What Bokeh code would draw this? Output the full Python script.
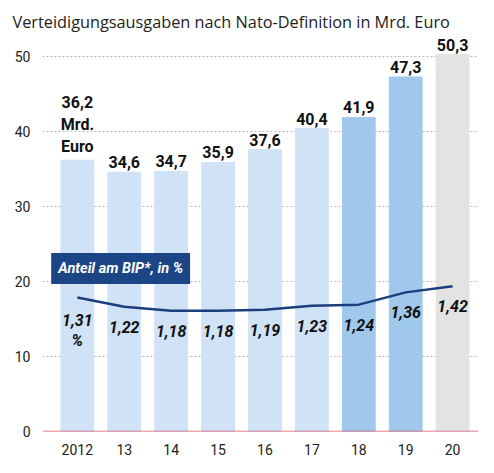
from bokeh.plotting import figure
from bokeh.models import Range1d, FixedTicker, Span, Label, ColumnDataSource
from bokeh.core.properties import value
from bokeh.embed import file_html
from bokeh.resources import INLINE

# ---- data ----
years = ["2012", "13", "14", "15", "16", "17", "18", "19", "20"]
spend = [36.2, 34.6, 34.7, 35.9, 37.6, 40.4, 41.9, 47.3, 50.3]
spend_labels = ["36,2\nMrd.\nEuro", "34,6", "34,7", "35,9", "37,6", "40,4", "41,9", "47,3", "50,3"]
share = [1.31, 1.22, 1.18, 1.18, 1.19, 1.23, 1.24, 1.36, 1.42]
share_labels = ["1,31\n%", "1,22", "1,18", "1,18", "1,19", "1,23", "1,24", "1,36", "1,42"]
status = ["ist", "ist", "ist", "ist", "ist", "ist", "plan", "plan", "prognose"]
y_ticks = [0, 10, 20, 30, 40, 50]

palette = {"ist": "#d0e2f5", "plan": "#a0c8ec", "prognose": "#e3e3e3"}
COND = "Roboto"

idx = list(range(len(years)))
src = ColumnDataSource(dict(x=idx, spend=spend, slab=spend_labels, share=share,
                            plab=share_labels, color=[palette[s] for s in status]))

Y_END = 52.57
p = figure(width=478, height=457, output_backend="svg", toolbar_location=None,
           x_range=Range1d(-0.743, 8.552), y_range=Range1d(0, Y_END),
           min_border_left=42, min_border_right=0, min_border_top=37, min_border_bottom=25)
p.extra_y_ranges = {"pct": Range1d(0, Y_END / 13.65)}
p.outline_line_color = None
p.background_fill_color = "white"

p.title.text = "Verteidigungsausgaben nach Nato-Definition in Mrd. Euro"
p.title.text_font = "Open Sans"
p.title.text_font_size = "16.3px"
p.title.text_font_style = "normal"
p.title.text_color = "#222222"
p.title.offset = -30
p.title.standoff = 9

# axes
p.xaxis.ticker = FixedTicker(ticks=idx)
p.xaxis.major_label_overrides = {i: y for i, y in zip(idx, years)}
p.yaxis.ticker = FixedTicker(ticks=y_ticks)
for ax in (p.xaxis[0], p.yaxis[0]):
    ax.axis_line_color = None
    ax.major_tick_line_color = None
    ax.minor_tick_line_color = None
    ax.major_label_text_font = COND
    ax.major_label_text_font_size = "14px"
    ax.major_label_text_color = "#222222"
p.xaxis.major_label_standoff = 6
p.yaxis.major_label_standoff = 6

p.xgrid.grid_line_color = None
p.ygrid.ticker = FixedTicker(ticks=[10, 20, 30, 40, 50])
p.ygrid.grid_line_color = "#b8b8b8"
p.ygrid.grid_line_dash = "2 2"
p.ygrid.grid_line_width = 1

# bars
p.vbar(x="x", top="spend", width=0.7, color="color", source=src)

# baseline
p.add_layout(Span(location=0, dimension="width", line_color="#d6546b", line_width=1.5))

# value labels
p.text(x="x", y="spend", text="slab", source=src, text_align="center", text_baseline="bottom",
       y_offset=-4, text_font=value(COND), text_font_size="16px", text_font_style="bold",
       text_color="#111111", text_line_height=1.15)

# share line
p.line(x="x", y="share", source=src, y_range_name="pct", line_color="#1b3f7d", line_width=2.5)
p.text(x="x", y="share", text="plab", source=src, y_range_name="pct", text_align="center",
       text_baseline="top", y_offset=14, text_font=value(COND), text_font_size="16px",
       text_font_style="bold italic", text_color="#111111", text_line_height=1.05)

# legend box
p.add_layout(Label(x=-0.558, y=19.67, text="Anteil am BIP*, in %", text_align="left",
                   text_baseline="bottom", text_font=COND, text_font_size="14.5px",
                   text_font_style="bold italic", text_color="white",
                   background_fill_color="#1b4585", padding=7))

open("out.html", "w").write(file_html(p, INLINE))
